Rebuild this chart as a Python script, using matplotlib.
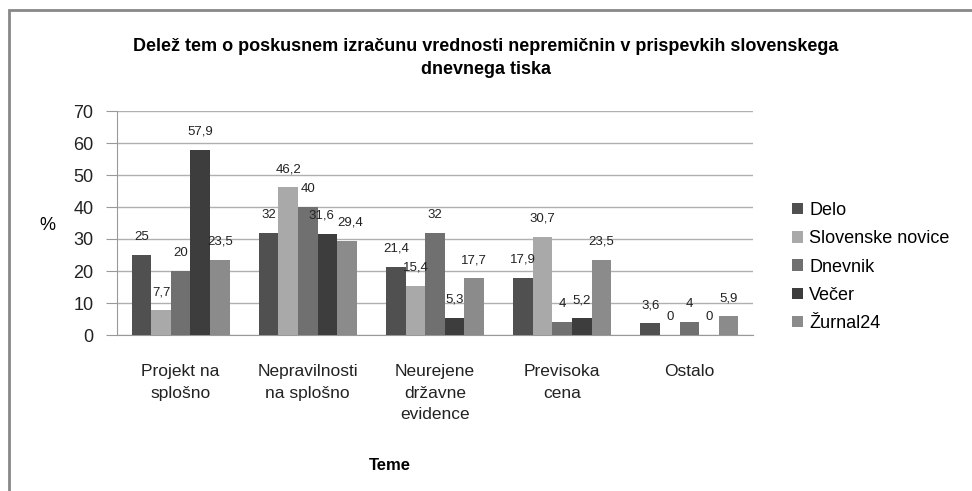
import matplotlib
matplotlib.use('Agg')
import matplotlib.pyplot as plt
import numpy as np
from matplotlib.patches import Rectangle

plt.rcParams['font.family'] = ['Liberation Sans', 'DejaVu Sans']

categories = ['Projekt na\nsplošno', 'Nepravilnosti\nna splošno', 'Neurejene\ndržavne\nevidence',
              'Previsoka\ncena', 'Ostalo']
series = ['Delo', 'Slovenske novice', 'Dnevnik', 'Večer', 'Žurnal24']
delo = [25, 32, 21.4, 17.9, 3.6]
slovenske_novice = [7.7, 46.2, 15.4, 30.7, 0]
dnevnik = [20, 40, 32, 4, 4]
vecer = [57.9, 31.6, 5.3, 5.2, 0]
zurnal24 = [23.5, 29.4, 17.7, 23.5, 5.9]
values = [delo, slovenske_novice, dnevnik, vecer, zurnal24]
colors = ['#505050', '#a9a9a9', '#707070', '#3d3d3d', '#8b8b8b']

fig = plt.figure(figsize=(9.72, 4.91), dpi=100)
ax = fig.add_axes([117/972, 1-335/491, (753-117)/972, (335-111)/491])

# outer chart frame (top and left edges visible)
fig.patches.append(Rectangle((9/972, -0.1), 1.2, 1-10/491+0.1, transform=fig.transFigure,
                             fill=False, edgecolor='#888888', linewidth=2))

# small label nudges (points) like in the original, to keep labels apart
nudge = {(3, 1): -4, (4, 1): 2}

x = np.arange(len(categories))
w = 1/6.5
for i, (name, vals, c) in enumerate(zip(series, values, colors)):
    pos = x + (i - 2) * w
    ax.bar(pos, vals, width=w, color=c, label=name, zorder=3)
    for j, (xp, v) in enumerate(zip(pos, vals)):
        txt = f'{v:g}'.replace('.', ',')
        ax.annotate(txt, (xp, v), xytext=(nudge.get((i, j), 0), 13), textcoords='offset points',
                    ha='center', va='center', fontsize=9.5, color='#222222', zorder=4)

ax.set_xlim(-0.5, len(categories) - 0.5)
ax.set_ylim(0, 70)
ax.set_yticks(range(0, 71, 10))
ax.yaxis.grid(True, color='#b0b0b0', linewidth=1, zorder=0)
ax.set_xticks(x)
ax.set_xticklabels(categories, fontsize=12.5, linespacing=1.55, color='#222222')
ax.tick_params(axis='x', length=0, pad=21)
ax.tick_params(axis='y', length=8, color='#999999', labelsize=13, pad=9, labelcolor='#222222')
for s in ['top', 'right']:
    ax.spines[s].set_visible(False)
ax.spines['left'].set_color('#999999')
ax.spines['bottom'].set_color('#999999')

fig.text(47/972, 1-226/491, '%', fontsize=13, ha='center', va='center')
fig.text(390/972, 1-465/491, 'Teme', fontsize=12, fontweight='bold', ha='center', va='center')
fig.text(486/972, 1-58/491, 'Delež tem o poskusnem izračunu vrednosti nepremičnin v prispevkih slovenskega\ndnevnega tiska',
         fontsize=13, fontweight='bold', ha='center', va='center', linespacing=1.45)

fig.legend(loc='center left', bbox_to_anchor=(776/972, 1-267/491), frameon=False, fontsize=13,
           handlelength=0.6, handleheight=0.6, handletextpad=0.35, labelspacing=0.62)

fig.savefig('out.png', dpi=100)
